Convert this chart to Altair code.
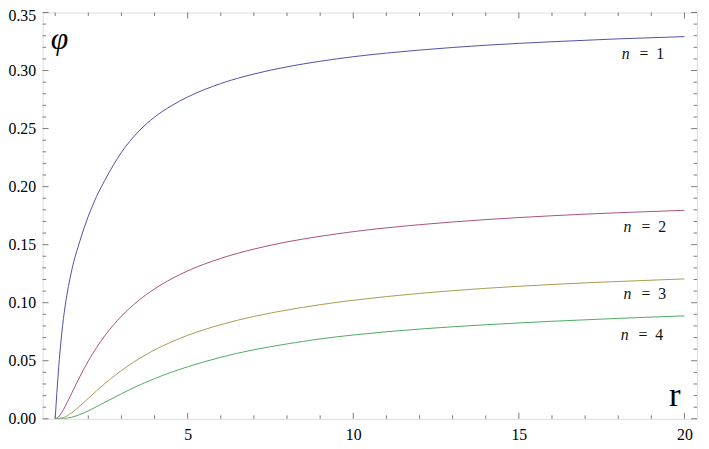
import altair as alt
import pandas as pd

# ---- data ----
r_n1 = [1, 1.1, 1.2, 1.3, 1.4, 1.5, 1.75, 2, 2.25, 2.5, 3, 3.5, 4, 4.5, 5, 6,
        7, 8, 9, 10, 12, 14, 16, 18, 20]
phi_n1 = [0, 0.042, 0.074, 0.097, 0.114, 0.128, 0.1535, 0.1745, 0.1915, 0.2055,
          0.2295, 0.2470, 0.2599, 0.2695, 0.2772, 0.2888, 0.2970, 0.3032,
          0.3080, 0.3119, 0.3176, 0.3218, 0.3248, 0.3273, 0.3292]
r_n2 = [1, 1.1, 1.2, 1.3, 1.4, 1.5, 1.75, 2, 2.5, 3, 3.5, 4, 4.5, 5, 6, 7, 8,
        9, 10, 12, 14, 16, 18, 20]
phi_n2 = [0, 0.0016, 0.0055, 0.0106, 0.0162, 0.0221, 0.0366, 0.0498, 0.0716,
          0.0884, 0.1015, 0.1119, 0.1204, 0.1274, 0.1382, 0.1462, 0.1524,
          0.1572, 0.1612, 0.1672, 0.1716, 0.1749, 0.1775, 0.1796]
r_n3 = [1, 1.25, 1.5, 1.75, 2, 2.5, 3, 3.5, 4, 4.5, 5, 6, 7, 8, 9, 10, 12, 14,
        16, 18, 20]
phi_n3 = [0, 0.0011, 0.0052, 0.0111, 0.0176, 0.0304, 0.0416, 0.0512, 0.0593,
          0.0661, 0.0719, 0.0811, 0.0882, 0.0937, 0.0983, 0.1021, 0.1080,
          0.1124, 0.1157, 0.1183, 0.1205]
r_n4 = [1, 1.25, 1.5, 1.75, 2, 2.5, 3, 3.5, 4, 4.5, 5, 6, 7, 8, 9, 10, 12, 14,
        16, 18, 20]
phi_n4 = [0, 0.00017, 0.00135, 0.0037, 0.0068, 0.0142, 0.0216, 0.0285, 0.0346,
          0.0400, 0.0448, 0.0530, 0.0595, 0.0645, 0.0688, 0.0722, 0.0773,
          0.0810, 0.0840, 0.0865, 0.0887]
series_names = ["n = 1", "n = 2", "n = 3", "n = 4"]
series_colors = ["#4f4fa8", "#aa4f84", "#aa9b4f", "#4faa64"]

label_n = ["1", "2", "3", "4"]
label_r = [18.64, 18.70, 18.70, 18.61]
label_phi = [0.3143, 0.1655, 0.1073, 0.0718]

x_major = [5, 10, 15, 20]
x_minor = [1, 2, 3, 4, 6, 7, 8, 9, 11, 12, 13, 14, 16, 17, 18, 19]
y_major = [0.00, 0.05, 0.10, 0.15, 0.20, 0.25, 0.30, 0.35]
y_minor = [0.01, 0.02, 0.03, 0.04, 0.06, 0.07, 0.08, 0.09, 0.11, 0.12, 0.13,
           0.14, 0.16, 0.17, 0.18, 0.19, 0.21, 0.22, 0.23, 0.24, 0.26, 0.27,
           0.28, 0.29, 0.31, 0.32, 0.33, 0.34]

X_DOMAIN = [0.62, 20.38]
Y_DOMAIN = [0.0, 0.35]
W, H = 662, 411
FONT = "Liberation Serif"
TICK = "#7a7a7a"

rows = []
for name, rs, vals in zip(series_names, [r_n1, r_n2, r_n3, r_n4],
                          [phi_n1, phi_n2, phi_n3, phi_n4]):
    for r, v in zip(rs, vals):
        rows.append({"r": r, "phi": v, "series": name})
df = pd.DataFrame(rows)

xscale = alt.Scale(domain=X_DOMAIN, nice=False, zero=False)
yscale = alt.Scale(domain=Y_DOMAIN, nice=False, zero=False)
xaxis = alt.Axis(values=x_major, ticks=False, tickSize=0, domain=False, grid=False,
                 title=None, labelFont=FONT, labelFontSize=16, labelColor="#000",
                 labelPadding=8, format="d")
yaxis = alt.Axis(values=y_major, ticks=False, tickSize=0, domain=False, grid=False,
                 title=None, labelFont=FONT, labelFontSize=16, labelColor="#000",
                 labelPadding=7, format=".2f",
                 labelOffset={"condition": {"test": "datum.value > 0.34", "value": 3},
                              "value": 0})


def X(field):
    return alt.X(field, type="quantitative", scale=xscale, axis=xaxis)


def Y(field):
    return alt.Y(field, type="quantitative", scale=yscale, axis=yaxis)


lines = alt.Chart(df).mark_line(strokeWidth=1.0, interpolate="monotone", clip=True).encode(
    x=X("r"),
    y=Y("phi"),
    color=alt.Color("series:N", scale=alt.Scale(domain=series_names, range=series_colors),
                    legend=None),
    detail="series:N",
)

xmaj = pd.DataFrame({"t": x_major})
xmin = pd.DataFrame({"t": x_minor})
ymaj = pd.DataFrame({"t": y_major})
ymin = pd.DataFrame({"t": y_minor})


def xticks(d, length):
    bottom = alt.Chart(d).mark_rule(color=TICK, strokeWidth=1).encode(
        x=X("t"), y=alt.value(H), y2=alt.value(H - length))
    top = alt.Chart(d).mark_rule(color=TICK, strokeWidth=1).encode(
        x=X("t"), y=alt.value(0), y2=alt.value(length))
    return [bottom, top]


def yticks(d, length):
    left = alt.Chart(d).mark_rule(color=TICK, strokeWidth=1).encode(
        y=Y("t"), x=alt.value(0), x2=alt.value(length))
    right = alt.Chart(d).mark_rule(color=TICK, strokeWidth=1).encode(
        y=Y("t"), x=alt.value(W), x2=alt.value(W - length))
    return [left, right]


ticks = xticks(xmaj, 6) + xticks(xmin, 3.5) + yticks(ymaj, 6) + yticks(ymin, 3.5)

lab = pd.DataFrame({"r": label_r, "phi": label_phi,
                    "num": ["=\u2002" + n for n in label_n],
                    "n": ["n"] * 4})
lab_n = alt.Chart(lab).mark_text(font=FONT, fontSize=16, fontStyle="italic", align="right",
                                 baseline="middle", dx=-10, color="#111").encode(
    x=X("r"), y=Y("phi"), text="n:N")
lab_num = alt.Chart(lab).mark_text(font=FONT, fontSize=16, align="left",
                                   baseline="middle", color="#111").encode(
    x=X("r"), y=Y("phi"), text="num:N")

phi_title = alt.Chart(pd.DataFrame({"s": ["\u03c6"]})).mark_text(
    font=FONT, fontSize=32, fontStyle="italic", align="center", baseline="alphabetic",
    color="#000").encode(x=alt.value(17), y=alt.value(37), text="s:N")
r_title = alt.Chart(pd.DataFrame({"s": ["r"]})).mark_text(
    font=FONT, fontSize=35, align="center", baseline="alphabetic",
    color="#000").encode(x=alt.value(639.5), y=alt.value(398), text="s:N")

chart = alt.layer(lines, *ticks, lab_n, lab_num, phi_title, r_title).properties(
    width=W, height=H,
    autosize=alt.AutoSizeParams(type="none"),
    padding={"left": 35, "top": 2, "right": 4, "bottom": 28},
).configure_view(stroke="#8a8a8a", strokeWidth=1).configure(background="white")

chart.save("out.html", embed_options={"renderer": "svg", "actions": False})
